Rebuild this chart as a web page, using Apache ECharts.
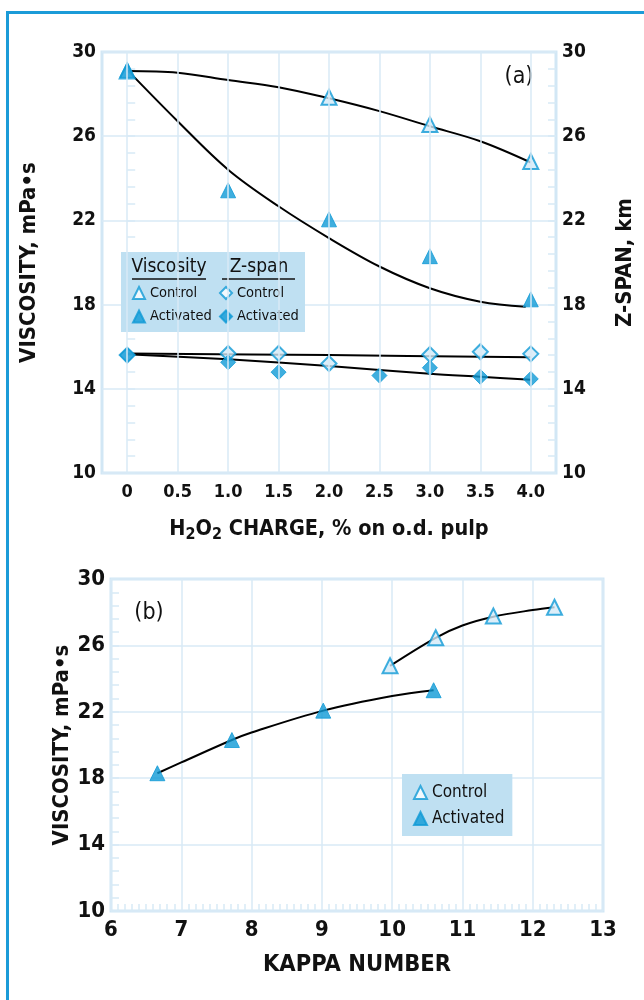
<!DOCTYPE html>
<html>
<head>
<meta charset="utf-8">
<script src="https://cdn.jsdelivr.net/npm/echarts@6.0.0/dist/echarts.min.js"></script>
<style>
  html, body { margin: 0; padding: 0; background: #fff; width: 644px; height: 1000px; overflow: hidden; }
  #frame { position: absolute; left: 6px; top: 11px; width: 700px; height: 1100px; border: 3px solid #1b9bd8; box-sizing: border-box; }
  #chart { position: absolute; left: 0; top: 0; width: 644px; height: 1000px; }
</style>
</head>
<body>
<div id="frame"></div>
<div id="chart"></div>
<script>
// (a) viscosity / z-span vs H2O2 charge
const chargeTicks = [0, 0.5, 1, 1.5, 2, 2.5, 3, 3.5, 4];
const viscControlA = [[0, 29.1], [2, 27.85], [3, 26.55], [4, 24.8]];
const viscActivatedA = [[0, 29.15], [1, 23.43], [2, 22.05], [3, 20.3], [4, 18.25]];
const zspanControl = [[0, 15.6], [1, 15.68], [1.5, 15.68], [2, 15.2], [3, 15.63], [3.5, 15.76], [4, 15.66]];
const zspanActivated = [[0, 15.6], [1, 15.26], [1.5, 14.79], [2.5, 14.63], [3, 15.0], [3.5, 14.57], [4, 14.47]];
// fitted curves
const viscControlFitA = [[0, 29.1], [0.5, 29.02], [1, 28.67], [1.5, 28.33], [2, 27.8], [2.5, 27.19], [3, 26.47], [3.5, 25.76], [4, 24.75]];
const viscActivatedFitA = [[0, 29.15], [0.5, 26.71], [1, 24.41], [1.5, 22.67], [2, 21.16], [2.5, 19.81], [3, 18.78], [3.5, 18.14], [3.95, 17.9]];
const zspanControlFit = [[0, 15.68], [2, 15.6], [4, 15.5]];
const zspanActivatedFit = [[0, 15.64], [1, 15.4], [2, 15.08], [3, 14.71], [3.5, 14.57], [4, 14.43]];

// (b) viscosity vs kappa number
const viscControlB = [[9.97, 24.77], [10.62, 26.46], [11.44, 27.77], [12.31, 28.3]];
const viscActivatedB = [[6.66, 18.3], [7.72, 20.3], [9.02, 22.07], [10.59, 23.3]];
const viscControlFitB = [[9.97, 24.77], [10.62, 26.46], [11.0, 27.2], [11.44, 27.73], [12.0, 28.13], [12.31, 28.3]];
const viscActivatedFitB = [[6.66, 18.3], [7.0, 18.95], [7.72, 20.3], [8.0, 20.75], [9.02, 22.07], [10.0, 22.95], [10.59, 23.3]];

const FONT = "'Liberation Sans Narrow', 'DejaVu Sans Condensed', 'Liberation Sans', sans-serif";
const BLUE = '#0f9ad6';
const LIGHT = '#d3eaf7';
const GRID = '#d8eaf6';
const BOX = '#bfe0f2';
const INK = '#111';

const chart = echarts.init(document.getElementById('chart'));

function valueY(gridIndex, name, position, nameGap, labelSize) {
  return {
    type: 'value', gridIndex: gridIndex, position: position,
    min: 10, max: 30, interval: 4,
    name: name, nameLocation: 'middle', nameGap: nameGap, nameRotate: 90, nameMoveOverlap: false,
    nameTextStyle: { fontSize: 22, fontWeight: 'bold', color: INK, fontFamily: FONT },
    axisLine: { show: false },
    axisTick: { show: true, inside: true, length: 8, lineStyle: { color: GRID, width: 1.5 } },
    minorTick: { show: true, splitNumber: 5, length: 8, lineStyle: { color: GRID, width: 1.5 } },
    axisLabel: { fontSize: labelSize, fontWeight: 'bold', color: INK, fontFamily: FONT, margin: 6 },
    splitLine: { show: position === 'left', lineStyle: { color: GRID, width: 1.5 } }
  };
}

function fitLine(data, xi, yi) {
  return {
    type: 'line', data: data, xAxisIndex: xi, yAxisIndex: yi, smooth: 0.35,
    symbol: 'none', silent: true, z: 2,
    lineStyle: { color: '#000', width: 2 }
  };
}

function markers(name, data, symbol, open, xi, yi) {
  return {
    type: 'scatter', name: name, data: data, xAxisIndex: xi, yAxisIndex: yi,
    symbol: symbol, symbolSize: 15, z: open ? 3 : 4,
    itemStyle: { color: open ? LIGHT : BLUE, borderColor: BLUE, borderWidth: open ? 2 : 1 }
  };
}

chart.setOption({
  animation: false,
  textStyle: { fontFamily: FONT },
  grid: [
    { left: 102, top: 52, width: 455, height: 421, show: true, borderColor: '#d2e7f5', borderWidth: 3 },
    { left: 111, top: 579, width: 492, height: 332, show: true, borderColor: '#d2e7f5', borderWidth: 3 }
  ],
  xAxis: [
    {
      type: 'value', gridIndex: 0, min: -0.25, max: 4.25,
      name: '{a|H}{s|2}{a|O}{s|2}{a| CHARGE, % on o.d. pulp}',
      nameLocation: 'middle', nameGap: 42, nameMoveOverlap: false,
      nameTextStyle: {
        color: INK,
        rich: {
          a: { fontSize: 21.5, fontWeight: 'bold', fontFamily: FONT, color: INK },
          s: { fontSize: 16, fontWeight: 'bold', fontFamily: FONT, color: INK, padding: [12, 0, 0, 0] }
        }
      },
      axisLine: { show: false },
      axisTick: { show: false },
      splitLine: { show: false },
      axisLabel: {
        customValues: chargeTicks, fontSize: 18, fontWeight: 'bold', color: INK, fontFamily: FONT, margin: 10,
        formatter: v => (v === 0 ? '0' : v.toFixed(1))
      }
    },
    {
      type: 'value', gridIndex: 1, min: 6, max: 13, interval: 1,
      name: 'KAPPA NUMBER', nameLocation: 'middle', nameGap: 42, nameMoveOverlap: false,
      nameTextStyle: { fontSize: 23.5, fontWeight: 'bold', color: INK, fontFamily: FONT },
      axisLine: { show: false },
      axisTick: { show: false, inside: true },
      minorTick: { show: true, splitNumber: 10, length: 7, lineStyle: { color: GRID, width: 1.5 } },
      axisLabel: { fontSize: 22, fontWeight: 'bold', color: INK, fontFamily: FONT, margin: 8 },
      splitLine: { show: true, lineStyle: { color: GRID, width: 1.5 } }
    }
  ],
  yAxis: [
    valueY(0, 'VISCOSITY, mPa•s', 'left', 62, 19),
    valueY(0, 'Z-SPAN, km', 'right', 58, 19),
    valueY(1, 'VISCOSITY, mPa•s', 'left', 38, 22)
  ],
  legend: [
    {
      orient: 'vertical', left: 132, top: 285.5, padding: 0, itemWidth: 12, itemHeight: 12, itemGap: 8.5,
      textStyle: { fontSize: 14.5, color: INK, fontFamily: FONT }, selectedMode: false,
      data: [{ name: 'Control', itemStyle: { color: '#fff' } }, { name: 'Activated' }]
    },
    {
      orient: 'vertical', left: 219, top: 285.5, padding: 0, itemWidth: 12, itemHeight: 12, itemGap: 8.5,
      textStyle: { fontSize: 14.5, color: INK, fontFamily: FONT }, selectedMode: false,
      formatter: n => n.replace('Z-span ', ''),
      data: [{ name: 'Z-span Control', itemStyle: { color: '#fff' } }, { name: 'Z-span Activated' }]
    },
    {
      orient: 'vertical', left: 402, top: 774, itemWidth: 13, itemHeight: 13, itemGap: 9,
      backgroundColor: BOX, padding: [10, 8, 9, 11],
      textStyle: { fontSize: 17, color: INK, fontFamily: FONT }, selectedMode: false,
      data: [{ name: 'Control', itemStyle: { color: '#fff' } }, { name: 'Activated' }]
    }
  ],
  graphic: [
    { type: 'rect', z: 3, shape: { x: 121, y: 252, width: 184, height: 80 }, style: { fill: BOX } },
    { type: 'text', z: 5, x: 169, y: 267, style: { text: 'Viscosity', fontSize: 19, fontFamily: FONT, fill: INK, align: 'center', verticalAlign: 'middle' } },
    { type: 'text', z: 5, x: 259, y: 267, style: { text: 'Z-span', fontSize: 19, fontFamily: FONT, fill: INK, align: 'center', verticalAlign: 'middle' } },
    { type: 'line', z: 5, shape: { x1: 132, y1: 279, x2: 206, y2: 279 }, style: { stroke: INK, lineWidth: 1.5 } },
    { type: 'line', z: 5, shape: { x1: 222, y1: 279, x2: 295, y2: 279 }, style: { stroke: INK, lineWidth: 1.5 } },
    { type: 'text', z: 5, x: 519, y: 77, style: { text: '(a)', fontSize: 23, fontFamily: FONT, fill: INK, align: 'center', verticalAlign: 'middle' } },
    { type: 'text', z: 5, x: 149, y: 613, style: { text: '(b)', fontSize: 23, fontFamily: FONT, fill: INK, align: 'center', verticalAlign: 'middle' } }
  ],
  series: [
    {
      // vertical grid lines of panel (a), on the tick values
      type: 'line', xAxisIndex: 0, yAxisIndex: 0, data: [], silent: true, z: 1,
      markLine: {
        silent: true, symbol: 'none', label: { show: false }, animation: false,
        lineStyle: { color: GRID, width: 1.5, type: 'solid' },
        data: chargeTicks.map(v => ({ xAxis: v }))
      }
    },
    fitLine(viscControlFitA, 0, 0),
    fitLine(viscActivatedFitA, 0, 0),
    fitLine(zspanControlFit, 0, 1),
    fitLine(zspanActivatedFit, 0, 1),
    markers('Control', viscControlA, 'triangle', true, 0, 0),
    markers('Activated', viscActivatedA, 'triangle', false, 0, 0),
    markers('Z-span Control', zspanControl, 'diamond', true, 0, 1),
    markers('Z-span Activated', zspanActivated, 'diamond', false, 0, 1),
    fitLine(viscControlFitB, 1, 2),
    fitLine(viscActivatedFitB, 1, 2),
    markers('Control', viscControlB, 'triangle', true, 1, 2),
    markers('Activated', viscActivatedB, 'triangle', false, 1, 2)
  ]
});
</script>
</body>
</html>
